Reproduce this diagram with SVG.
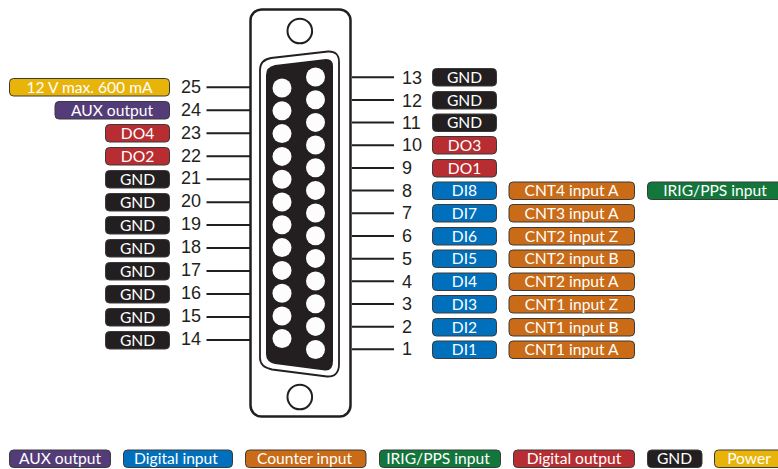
<svg xmlns="http://www.w3.org/2000/svg" width="778" height="469" viewBox="0 0 778 469">
<style>
.p{stroke:#3a3a3a;stroke-width:1}
.t{font-family:Lato,"Liberation Sans",sans-serif;font-size:15.6px;fill:#fff;text-anchor:middle}
.n{font-family:"Liberation Sans",Arial,sans-serif;font-size:18px;fill:#231f20}
.l{stroke:#231f20;stroke-width:2;fill:none}
.k{fill:#231f20}.r{fill:#b72d32}.b{fill:#0070bd}.o{fill:#c96b17}.g{fill:#13773c}.v{fill:#533c78}.y{fill:#e9b40a}
</style>
<g id="connector-body">
<rect x="250.500" y="9.500" width="100" height="407" rx="11" fill="#fff" stroke="#231f20" stroke-width="2.500"/>
<circle cx="299.800" cy="31" r="12.300" fill="#fff" stroke="#231f20" stroke-width="2"/>
<circle cx="299.800" cy="397" r="12.300" fill="#fff" stroke="#231f20" stroke-width="2"/>
<path d="M271 58L328 51.500Q339 51 339 62V364Q339 377 327 376.500L272 369.500Q260 367 260 358V70Q260 60 271 58Z" fill="#fff" stroke="#231f20" stroke-width="1.800"/>
<path d="M275 65L326 59Q333 59 333 66V361Q333 371 325 370.500L275 364Q266 362 266 354V75Q266 67 275 65Z" fill="#231f20"/>
<g fill="#fdfdfd">
<circle cx="315.500" cy="77" r="9.500"/><circle cx="315.500" cy="99.700" r="9.500"/><circle cx="315.500" cy="122.400" r="9.500"/><circle cx="315.500" cy="145" r="9.500"/><circle cx="315.500" cy="167.700" r="9.500"/><circle cx="315.500" cy="190.400" r="9.500"/><circle cx="315.500" cy="213" r="9.500"/><circle cx="315.500" cy="235.700" r="9.500"/><circle cx="315.500" cy="258.400" r="9.500"/><circle cx="315.500" cy="281" r="9.500"/><circle cx="315.500" cy="303.700" r="9.500"/><circle cx="315.500" cy="326.400" r="9.500"/><circle cx="315.500" cy="349.500" r="9.500"/>
<circle cx="282" cy="88" r="9.500"/><circle cx="282" cy="110.800" r="9.500"/><circle cx="282" cy="133.600" r="9.500"/><circle cx="282" cy="156.400" r="9.500"/><circle cx="282" cy="179.200" r="9.500"/><circle cx="282" cy="202" r="9.500"/><circle cx="282" cy="224.800" r="9.500"/><circle cx="282" cy="247.600" r="9.500"/><circle cx="282" cy="270.400" r="9.500"/><circle cx="282" cy="293.200" r="9.500"/><circle cx="282" cy="316" r="9.500"/><circle cx="282" cy="338.500" r="9.500"/>
</g>
</g>
<g id="connectors" class="l">
<path d="M352 77.300H394M352 100H394M352 122.600H394M352 145.300H394M352 168H394M352 190.600H394M352 213.300H394M352 236H394M352 258.700H394M352 281.300H394M352 304H394M352 326.700H394M352 349.300H394"/>
<path d="M206.500 87.300H250M206.500 110.300H250M206.500 133.200H250M206.500 156.200H250M206.500 179.200H250M206.500 202.200H250M206.500 225.100H250M206.500 248.100H250M206.500 271.100H250M206.500 294H250M206.500 317H250M206.500 340H250"/>
</g>
<g id="pin-numbers" class="n">
<text x="402" y="84">13</text><text x="402" y="107">12</text><text x="402" y="129">11</text><text x="402" y="151">10</text><text x="402" y="174">9</text><text x="402" y="197">8</text><text x="402" y="219">7</text><text x="402" y="242">6</text><text x="402" y="265">5</text><text x="402" y="288">4</text><text x="402" y="310">3</text><text x="402" y="333">2</text><text x="402" y="355">1</text>
<text x="181" y="93">25</text><text x="181" y="116">24</text><text x="181" y="139">23</text><text x="181" y="162">22</text><text x="181" y="184">21</text><text x="181" y="207">20</text><text x="181" y="230">19</text><text x="181" y="253">18</text><text x="181" y="276">17</text><text x="181" y="299">16</text><text x="181" y="322">15</text><text x="181" y="345">14</text>
</g>
<g id="left-labels">
<g id="pin25"><rect class="p y" x="9.500" y="78.500" width="160" height="17.500" rx="4"/><text class="t" x="89.500" y="92.500">12 V max. 600 mA</text></g>
<g id="pin24"><rect class="p v" x="55" y="101.500" width="114.500" height="17.500" rx="4"/><text class="t" x="112" y="115.500">AUX output</text></g>
<g id="pin23"><rect class="p r" x="105.500" y="124.500" width="64" height="17.500" rx="4"/><text class="t" x="137.500" y="138.500">DO4</text></g>
<g id="pin22"><rect class="p r" x="105.500" y="147.500" width="64" height="17.500" rx="4"/><text class="t" x="137.500" y="161.500">DO2</text></g>
<g id="pin21"><rect class="p k" x="105.500" y="170.500" width="64" height="17.500" rx="4"/><text class="t" x="137.500" y="184.500">GND</text></g>
<g id="pin20"><rect class="p k" x="105.500" y="193.500" width="64" height="17.500" rx="4"/><text class="t" x="137.500" y="207.500">GND</text></g>
<g id="pin19"><rect class="p k" x="105.500" y="216.500" width="64" height="17.500" rx="4"/><text class="t" x="137.500" y="230.500">GND</text></g>
<g id="pin18"><rect class="p k" x="105.500" y="239.500" width="64" height="17.500" rx="4"/><text class="t" x="137.500" y="253.500">GND</text></g>
<g id="pin17"><rect class="p k" x="105.500" y="262.500" width="64" height="17.500" rx="4"/><text class="t" x="137.500" y="276.500">GND</text></g>
<g id="pin16"><rect class="p k" x="105.500" y="285.500" width="64" height="17.500" rx="4"/><text class="t" x="137.500" y="299.500">GND</text></g>
<g id="pin15"><rect class="p k" x="105.500" y="308.500" width="64" height="17.500" rx="4"/><text class="t" x="137.500" y="322.500">GND</text></g>
<g id="pin14"><rect class="p k" x="105.500" y="331.500" width="64" height="17.500" rx="4"/><text class="t" x="137.500" y="345.500">GND</text></g>
</g>
<g id="right-labels">
<g id="pin13"><rect class="p k" x="432.500" y="68.500" width="64" height="17.500" rx="4"/><text class="t" x="464.500" y="82.500">GND</text></g>
<g id="pin12"><rect class="p k" x="432.500" y="91.500" width="64" height="17.500" rx="4"/><text class="t" x="464.500" y="105.500">GND</text></g>
<g id="pin11"><rect class="p k" x="432.500" y="114" width="64" height="17.500" rx="4"/><text class="t" x="464.500" y="128">GND</text></g>
<g id="pin10"><rect class="p r" x="432.500" y="136.500" width="64" height="17.500" rx="4"/><text class="t" x="464.500" y="150.500">DO3</text></g>
<g id="pin9"><rect class="p r" x="432.500" y="159.500" width="64" height="17.500" rx="4"/><text class="t" x="464.500" y="173.500">DO1</text></g>
<g id="pin8"><rect class="p b" x="432.500" y="182" width="64" height="17.500" rx="4"/><text class="t" x="464.500" y="196">DI8</text></g>
<g id="pin7"><rect class="p b" x="432.500" y="204.500" width="64" height="17.500" rx="4"/><text class="t" x="464.500" y="218.500">DI7</text></g>
<g id="pin6"><rect class="p b" x="432.500" y="227.500" width="64" height="17.500" rx="4"/><text class="t" x="464.500" y="241.500">DI6</text></g>
<g id="pin5"><rect class="p b" x="432.500" y="250" width="64" height="17.500" rx="4"/><text class="t" x="464.500" y="264">DI5</text></g>
<g id="pin4"><rect class="p b" x="432.500" y="273" width="64" height="17.500" rx="4"/><text class="t" x="464.500" y="287">DI4</text></g>
<g id="pin3"><rect class="p b" x="432.500" y="295.500" width="64" height="17.500" rx="4"/><text class="t" x="464.500" y="309.500">DI3</text></g>
<g id="pin2"><rect class="p b" x="432.500" y="318.500" width="64" height="17.500" rx="4"/><text class="t" x="464.500" y="332.500">DI2</text></g>
<g id="pin1"><rect class="p b" x="432.500" y="341" width="64" height="17.500" rx="4"/><text class="t" x="464.500" y="355">DI1</text></g>
<g id="cnt8"><rect class="p o" x="509" y="182" width="125.500" height="17.500" rx="4"/><text class="t" x="571.500" y="196">CNT4 input A</text></g>
<g id="cnt7"><rect class="p o" x="509" y="204.500" width="125.500" height="17.500" rx="4"/><text class="t" x="571.500" y="218.500">CNT3 input A</text></g>
<g id="cnt6"><rect class="p o" x="509" y="227.500" width="125.500" height="17.500" rx="4"/><text class="t" x="571.500" y="241.500">CNT2 input Z</text></g>
<g id="cnt5"><rect class="p o" x="509" y="250" width="125.500" height="17.500" rx="4"/><text class="t" x="571.500" y="264">CNT2 input B</text></g>
<g id="cnt4"><rect class="p o" x="509" y="273" width="125.500" height="17.500" rx="4"/><text class="t" x="571.500" y="287">CNT2 input A</text></g>
<g id="cnt3"><rect class="p o" x="509" y="295.500" width="125.500" height="17.500" rx="4"/><text class="t" x="571.500" y="309.500">CNT1 input Z</text></g>
<g id="cnt2"><rect class="p o" x="509" y="318.500" width="125.500" height="17.500" rx="4"/><text class="t" x="571.500" y="332.500">CNT1 input B</text></g>
<g id="cnt1"><rect class="p o" x="509" y="341" width="125.500" height="17.500" rx="4"/><text class="t" x="571.500" y="355">CNT1 input A</text></g>
<g id="irig"><rect class="p g" x="647.500" y="182" width="135" height="17.500" rx="4"/><text class="t" x="715" y="196">IRIG/PPS input</text></g>
</g>
<g id="legend">
<g id="legend-aux"><rect class="p v" x="9.500" y="450" width="101" height="17.500" rx="4"/><text class="t" x="60" y="464">AUX output</text></g>
<g id="legend-di"><rect class="p b" x="123.500" y="450" width="109" height="17.500" rx="4"/><text class="t" x="176" y="464">Digital input</text></g>
<g id="legend-cnt"><rect class="p o" x="245.500" y="450" width="120.500" height="17.500" rx="4"/><text class="t" x="304.500" y="464">Counter input</text></g>
<g id="legend-irig"><rect class="p g" x="379.500" y="450" width="121" height="17.500" rx="4"/><text class="t" x="438" y="464">IRIG/PPS input</text></g>
<g id="legend-do"><rect class="p r" x="513.500" y="450" width="121" height="17.500" rx="4"/><text class="t" x="574" y="464">Digital output</text></g>
<g id="legend-gnd"><rect class="p k" x="647.500" y="450" width="54.500" height="17.500" rx="4"/><text class="t" x="674.500" y="464">GND</text></g>
<g id="legend-power"><rect class="p y" x="714.500" y="450" width="70" height="17.500" rx="4"/><text class="t" x="749" y="464">Power</text></g>
</g>
</svg>
